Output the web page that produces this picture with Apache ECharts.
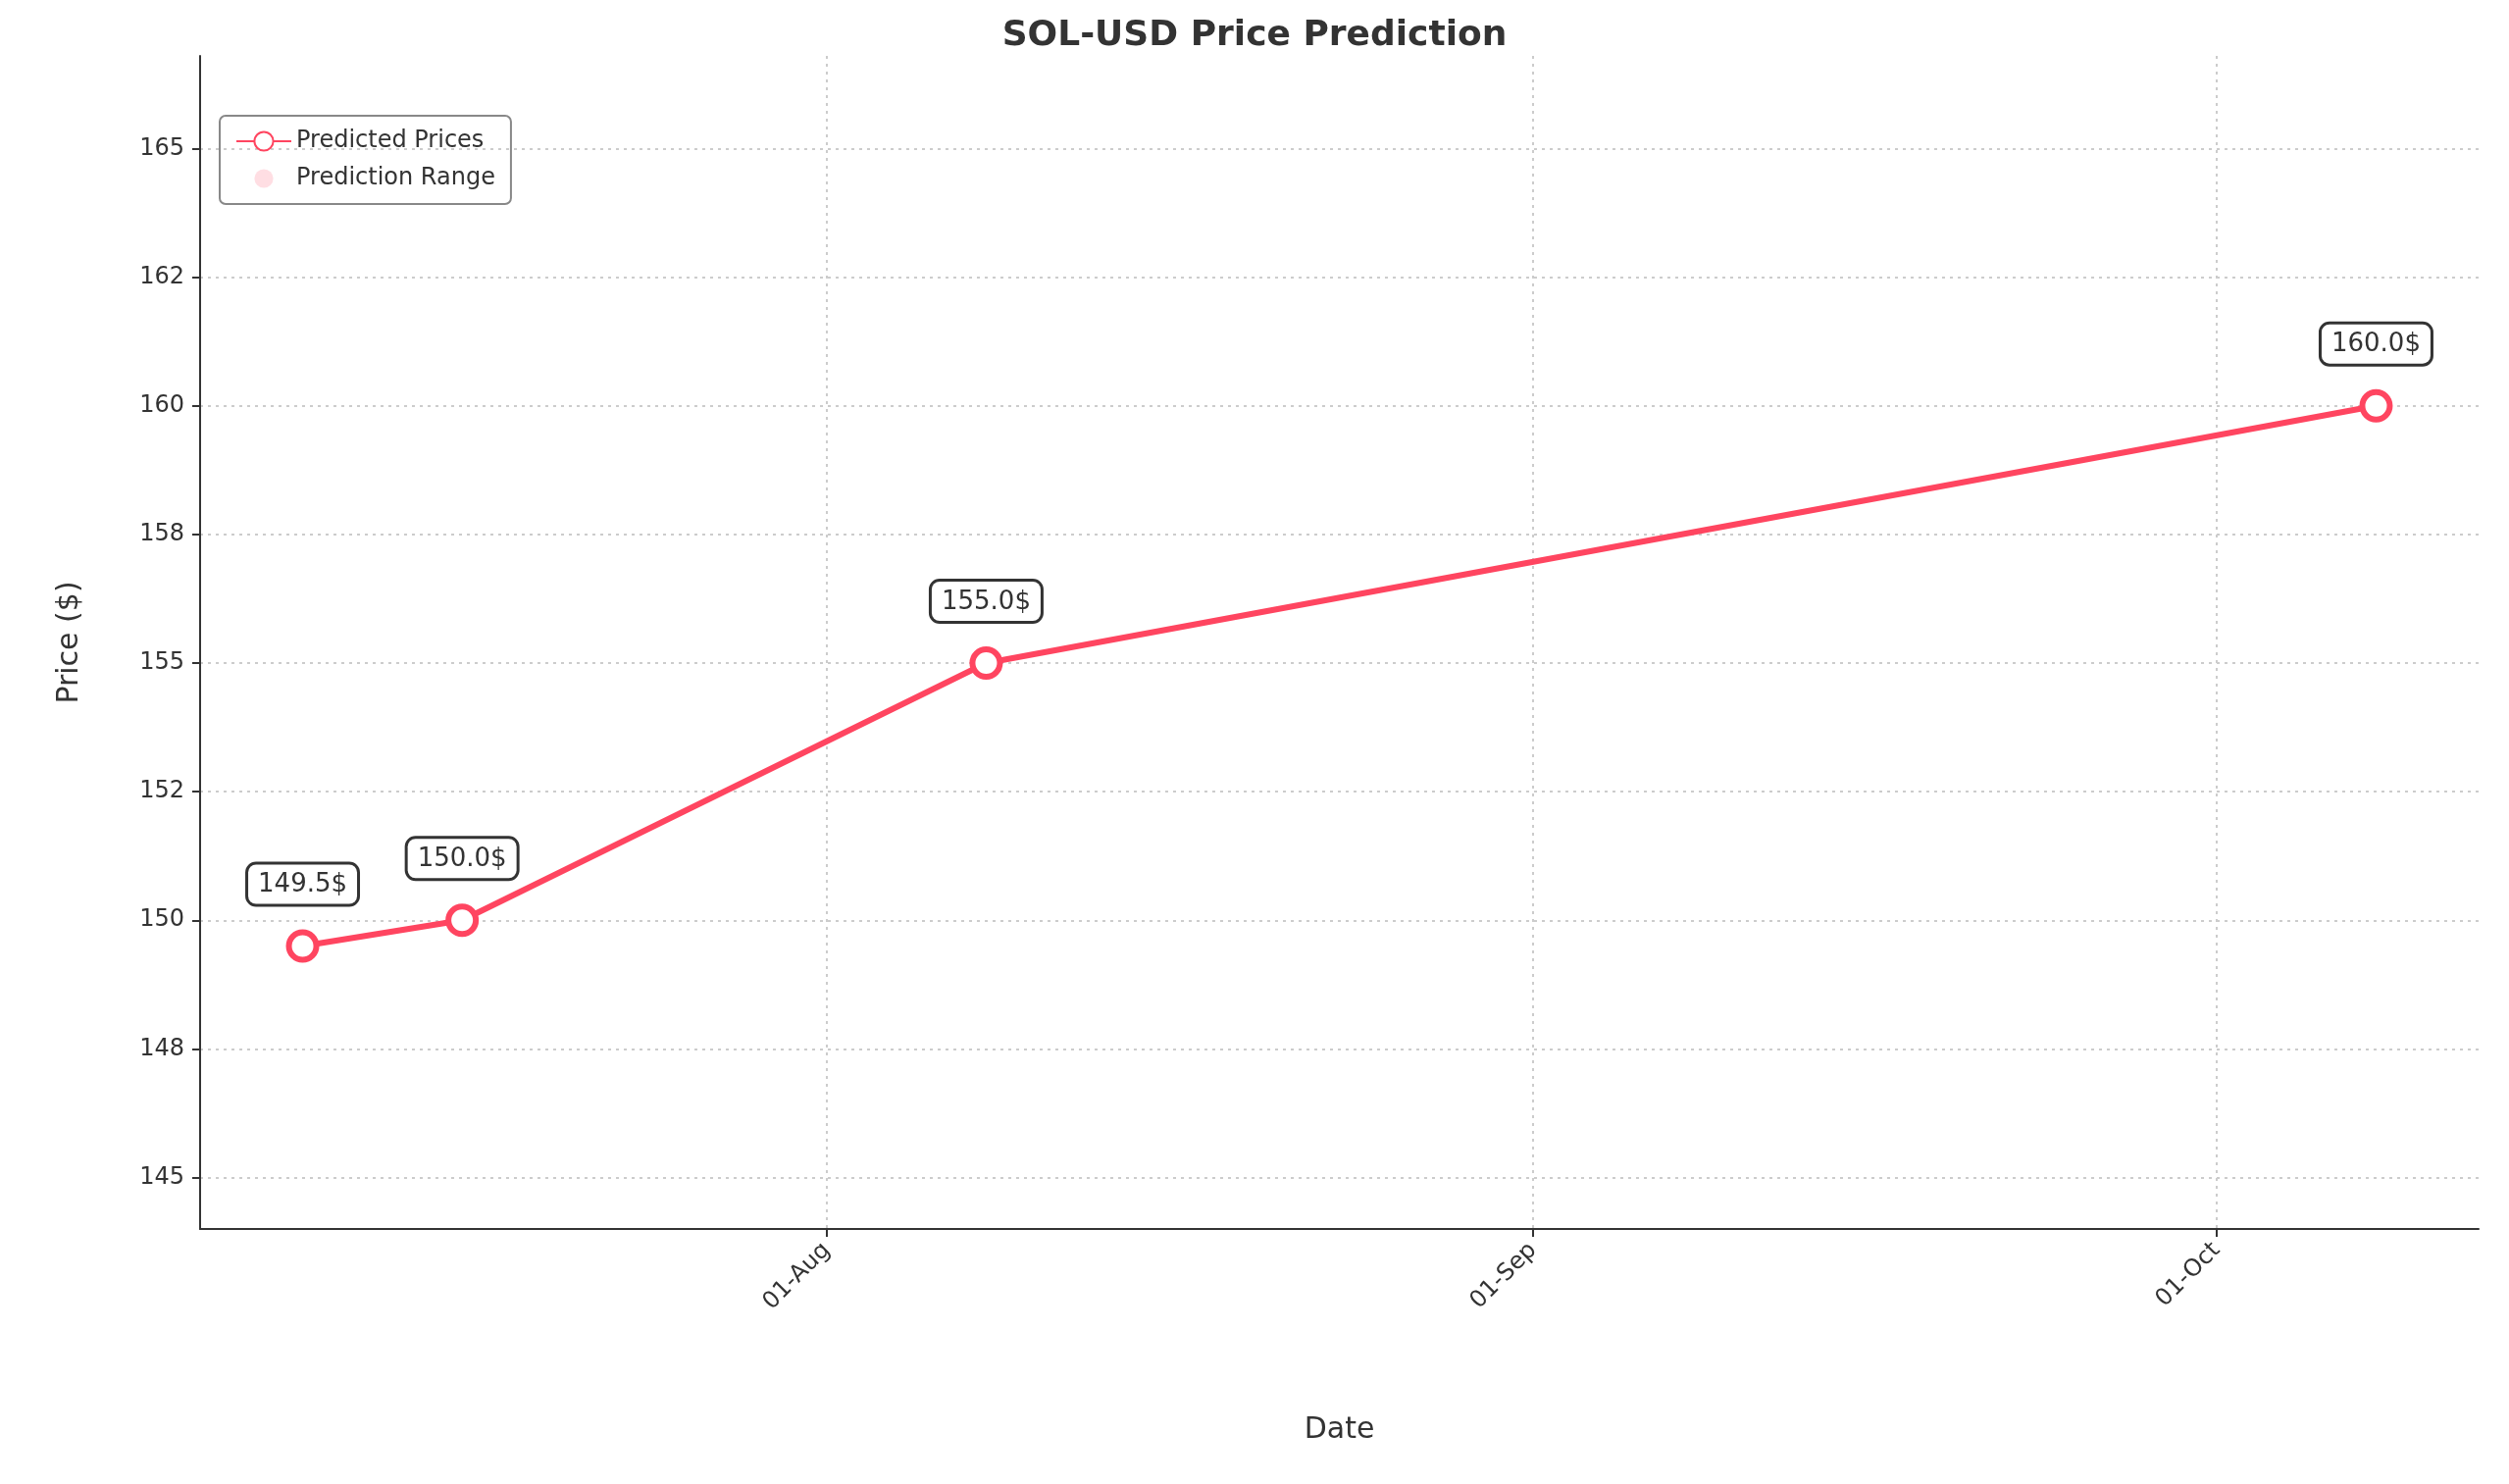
<!DOCTYPE html>
<html>
<head>
<meta charset="utf-8">
<script src="https://cdn.jsdelivr.net/npm/echarts@6/dist/echarts.min.js"></script>
<style>html,body{margin:0;padding:0;background:#fff}#main{width:2558px;height:1513px}</style>
</head>
<body>
<div id="main"></div>
<script>
// data
var dates = ['2024-07-09', '2024-07-16', '2024-08-08', '2024-10-08'];
var predicted = [149.5, 150.0, 155.0, 160.0];
var lower = [148.0, 147.0, 145.0, 150.0];
var upper = [150.5, 152.3, 158.0, 165.0];
var yTicks = [145, 147.5, 150, 152.5, 155, 157.5, 160, 162.5, 165];
var xTicks = ['2024-08-01', '2024-09-01', '2024-10-01'];

// days since 2024-07-01 (UTC)
var DAY = 86400e3;
var base = Date.UTC(2024, 6, 1);
function dn(s) { return (new Date(s + 'T00:00:00Z').getTime() - base) / DAY; }
// matplotlib style rounding (half to even)
function fmt(v) {
    var f = Math.floor(v);
    if (Math.abs(v - f - 0.5) < 1e-9) return (f % 2 === 0 ? f : f + 1) + '';
    return Math.round(v) + '';
}
var months = ['Jan','Feb','Mar','Apr','May','Jun','Jul','Aug','Sep','Oct','Nov','Dec'];

var lineData = [], lowData = [], diffData = [];
for (var i = 0; i < dates.length; i++) {
    lineData.push([dn(dates[i]), predicted[i]]);
    lowData.push([dn(dates[i]), lower[i]]);
    diffData.push([dn(dates[i]), upper[i] - lower[i]]);
}
var xTickVals = xTicks.map(dn);
var red = '#ff4560';
var txt = '#333333';

var myChart = echarts.init(document.getElementById('main'));
myChart.setOption({
    animation: false,
    title: {
        text: 'SOL-USD Price Prediction', left: 'center', top: 14,
        textStyle: { fontSize: 36, fontWeight: 'bold', color: txt, fontFamily: 'DejaVu Sans' }
    },
    legend: {
        left: 224, top: 118, orient: 'vertical', itemGap: 14,
        itemWidth: 56, itemHeight: 24,
        padding: [14, 16, 14, 16],
        borderColor: '#888', borderWidth: 2, borderRadius: 6,
        textStyle: { fontSize: 24, color: txt, fontFamily: 'DejaVu Sans' },
        data: ['Predicted Prices', 'Prediction Range']
    },
    grid: { left: 204, right: 31, top: 57, bottom: 260 },
    xAxis: {
        type: 'value',
        min: 3.5, max: 103.5,
        name: 'Date', nameLocation: 'middle', nameGap: 190,
        nameTextStyle: { fontSize: 30, color: txt, fontFamily: 'DejaVu Sans' },
        axisLine: { lineStyle: { color: txt, width: 2 } },
        axisTick: { customValues: xTickVals, length: 8, lineStyle: { color: txt, width: 2 } },
        axisLabel: {
            customValues: xTickVals, rotate: 45, fontSize: 24, color: txt, margin: 18,
            fontFamily: 'DejaVu Sans',
            formatter: function (v) {
                var d = new Date(base + v * DAY);
                return ('0' + d.getUTCDate()).slice(-2) + '-' + months[d.getUTCMonth()];
            }
        },
        splitLine: { show: true, customValues: xTickVals, lineStyle: { color: '#cccccc', type: [3, 5], width: 2 } }
    },
    yAxis: {
        type: 'value', min: 144.0, max: 166.8,
        name: 'Price ($)', nameLocation: 'middle', nameGap: 118,
        nameTextStyle: { fontSize: 30, color: txt, fontFamily: 'DejaVu Sans' },
        axisLine: { show: true, lineStyle: { color: txt, width: 2 } },
        axisTick: { show: true, customValues: yTicks, length: 8, lineStyle: { color: txt, width: 2 } },
        axisLabel: { customValues: yTicks, fontSize: 24, color: txt, margin: 16, fontFamily: 'DejaVu Sans', formatter: fmt },
        splitLine: { show: true, customValues: yTicks, lineStyle: { color: '#cccccc', type: [3, 5], width: 2 } }
    },
    series: [
        {
            name: 'low', type: 'line', stack: 'band', data: lowData,
            symbol: 'none', lineStyle: { opacity: 0 }, silent: true
        },
        {
            name: 'Prediction Range', type: 'line', stack: 'band', data: diffData,
            symbol: 'none', lineStyle: { width: 0, color: 'rgba(255,182,193,0.45)' },
            itemStyle: { color: 'rgba(255,182,193,0.45)' },
            areaStyle: { color: 'rgba(255,182,193,0.45)' }
        },
        {
            name: 'Predicted Prices', type: 'line', data: lineData, z: 5,
            symbol: 'circle', symbolSize: 28,
            lineStyle: { color: red, width: 6 },
            itemStyle: { color: '#fff', borderColor: red, borderWidth: 6 },
            label: {
                show: true, position: 'top', distance: 26,
                formatter: function (p) { return p.value[1].toFixed(1) + '$'; },
                fontSize: 26, color: txt, fontFamily: 'DejaVu Sans',
                backgroundColor: '#fff', borderColor: txt, borderWidth: 3, borderRadius: 8,
                padding: [8, 10, 6, 10]
            }
        }
    ]
});
</script>
</body>
</html>
